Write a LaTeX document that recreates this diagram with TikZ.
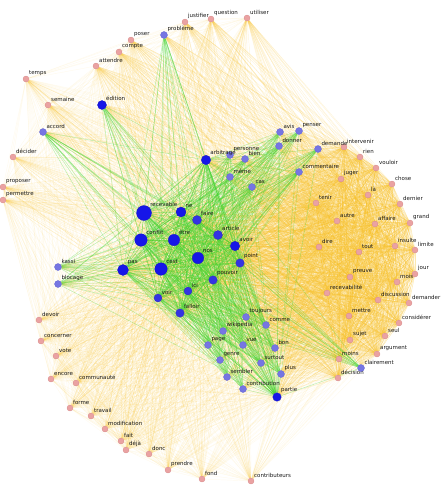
\documentclass[tikz,border=0pt]{standalone}
\usepackage{fontspec}
\setmainfont{DejaVu Sans}
\definecolor{pinkfill}{RGB}{234,162,162}
\definecolor{pinkline}{RGB}{214,136,136}
\definecolor{deepblue}{RGB}{22,22,232}
\definecolor{midblue}{RGB}{52,52,226}
\definecolor{lavblue}{RGB}{118,118,226}
\definecolor{lavline}{RGB}{100,100,210}
\definecolor{edgegreen}{RGB}{70,212,50}
\definecolor{edgeyellow}{RGB}{246,190,36}
\pgfdeclarelayer{edges}
\pgfsetlayers{edges,main}
\tikzset{
  vtx/.style={circle,inner sep=0pt,line width=0.3pt},
  pinkv/.style={vtx,fill=pinkfill,draw=pinkline,minimum size=6pt},
  lavv/.style={vtx,fill=lavblue,draw=lavline,minimum size=7pt},
  midv/.style={vtx,fill=midblue,draw=midblue!80!black,minimum size=#1},
  deepv/.style={vtx,fill=deepblue,draw=deepblue!80!black,minimum size=#1},
  word/.style={font=\fontsize{5.5}{6}\selectfont,text=black!90,inner sep=0.3pt,label distance=0.6pt},
  gedge/.style={edgegreen,line width=0.5pt},
  yedge/.style={edgeyellow,line width=0.45pt},
}
% word lists for the links
\def\rightw{intervenir,rien,vouloir,juger,chose,la,dernier,tenir,autre,affaire,grand,dire,tout,insulte,limite,jour,mois,preuve,recevabilite,discussion,demander,mettre,considerer,seul,sujet,argument,moins,decision}
\def\outerw{temps,semaine,decider,proposer,permettre,devoir,concerner,vote,encore,communaute,forme,travail,modification,fait,deja,donc,prendre,fond,contributeurs}
\def\topw{attendre,compte,poser,justifier,question,utiliser}
\edef\rimw{\outerw,\topw}
\def\hubw{recevable,conflit,etre,cest,nos,pas,arbitrage,avoir,point,partie,ne,faire,article,pouvoir,ici,voir,falloir}
\def\leafw{probleme,edition,accord,personne,bien,avis,penser,donner,demande,meme,cas,commentaire,kassi,blocage,toujours,comme,wikipedia,page,vue,bon,genre,surtout,plus,sembler,contribution,clairement}
\begin{document}
\begin{tikzpicture}[x=1pt,y=-1pt]
  \useasboundingbox (0,0) rectangle (443,488);
  % pink words
  \foreach \n/\x/\y/\t in {justifier/185/22/justifier, question/211/19/question, utiliser/247/18/utiliser,
      poser/131/40/poser, compte/119/52/compte, attendre/96/66/attendre, temps/26/79/temps,
      semaine/48/105/semaine, decider/13/157/décider, proposer/3/187/proposer, permettre/3/200/permettre,
      devoir/39/320/devoir, concerner/41/341/concerner, vote/56/356/vote, encore/51/379/encore,
      communaute/76/383/communauté, forme/70/408/forme, travail/91/416/travail,
      modification/105/429/modification, fait/121/441/fait, deja/126/450/déjà, donc/149/454/donc,
      prendre/168/470/prendre, fond/202/479/fond, contributeurs/251/481/contributeurs,
      intervenir/344/147/intervenir, rien/360/157/rien, vouloir/376/168/vouloir, juger/341/179/juger,
      chose/392/184/chose, la/368/195/là, dernier/400/204/dernier, tenir/316/203/tenir,
      autre/337/221/autre, affaire/375/224/affaire, grand/410/223/grand, dire/319/247/dire,
      tout/359/252/tout, insulte/395/246/insulte, limite/415/250/limite, jour/415/274/jour,
      mois/397/282/mois, preuve/350/277/preuve, recevabilite/327/293/recevabilité,
      discussion/378/300/discussion, demander/409/303/demander, mettre/349/316/mettre,
      considerer/399/323/considérer, seul/385/336/seul, sujet/350/340/sujet,
      argument/377/354/argument, moins/339/359/moins, decision/338/378/décision}
    \node[pinkv,label={[word]45:\t}] (\n) at (\x,\y) {};
  % small blue words
  \foreach \n/\x/\y/\t in {probleme/164/35/problème, accord/43/132/accord, personne/230/155/personne,
      bien/245/159/bien, avis/280/132/avis, penser/299/131/penser, donner/279/146/donner,
      demande/318/149/demande, meme/230/177/même, cas/252/187/cas, commentaire/299/172/commentaire,
      kassi/58/267/kassi, blocage/58/284/blocage, toujours/246/317/toujours, comme/266/325/comme,
      wikipedia/223/331/wikipedia, page/208/345/page, vue/243/345/vue, bon/275/348/bon,
      genre/220/360/genre, surtout/261/363/surtout, plus/281/374/plus, sembler/227/377/sembler,
      contribution/243/389/contribution, clairement/361/368/clairement}
    \node[lavv,label={[word]45:\t}] (\n) at (\x,\y) {};
  % large blue words
  \foreach \n/\x/\y/\s/\t in {edition/102/105/9/édition, arbitrage/206/160/9.5/arbitrage,
      recevable/144/213/15/recevable, ne/181/212/10/ne, conflit/141/240/12.5/conflit,
      etre/174/240/11.5/être, avoir/235/246/9.5/avoir, nos/198/258/11.5/nos,
      cest/161/269/12.5/cest, pas/123/270/11/pas, partie/277/397/8.5/partie}
    \node[deepv=\s pt,label={[word]45:\t}] (\n) at (\x,\y) {};
  \foreach \n/\x/\y/\s/\t in {faire/197/220/9/faire, article/218/235/9/article, point/240/263/8.5/point,
      pouvoir/213/280/8.5/pouvoir, ici/188/291/8/ici, voir/158/298/8/voir, falloir/180/313/8.5/falloir}
    \node[midv=\s pt,label={[word]45:\t}] (\n) at (\x,\y) {};
  \begin{pgfonlayer}{edges}
    \begin{scope}[yedge,draw opacity=0.36]
      \foreach \a [count=\i] in \rightw
        \foreach \b [count=\j] in \rightw {
          \ifnum\j>\i \draw (\a) -- (\b); \fi
        }
    \end{scope}
    \begin{scope}[yedge,draw opacity=0.25]
      \foreach \a in \rightw
        \foreach \b in \hubw
          \draw (\a) -- (\b);
    \end{scope}
    \begin{scope}[yedge,draw opacity=0.16]
      \foreach \a in \rightw
        \foreach \b in \leafw
          \draw (\a) -- (\b);
      \foreach \a in \rimw
        \foreach \b in \hubw
          \draw (\a) -- (\b);
      \foreach \a in \topw
        \foreach \b in \rightw
          \draw (\a) -- (\b);
    \end{scope}
    \begin{scope}[yedge,draw opacity=0.08]
      \foreach \a in \outerw
        \foreach \b in \rightw
          \draw (\a) -- (\b);
      \foreach \a [count=\i] in \rimw
        \foreach \b [count=\j] in \rimw {
          \ifnum\j>\i \draw (\a) -- (\b); \fi
        }
    \end{scope}
    \begin{scope}[gedge,draw opacity=0.55]
      \foreach \a [count=\i] in \hubw
        \foreach \b [count=\j] in \hubw {
          \ifnum\j>\i \draw (\a) -- (\b); \fi
        }
    \end{scope}
    \begin{scope}[gedge,draw opacity=0.35]
      \foreach \a in \hubw
        \foreach \b in \leafw
          \draw (\a) -- (\b);
    \end{scope}
  \end{pgfonlayer}
\end{tikzpicture}
\end{document}
